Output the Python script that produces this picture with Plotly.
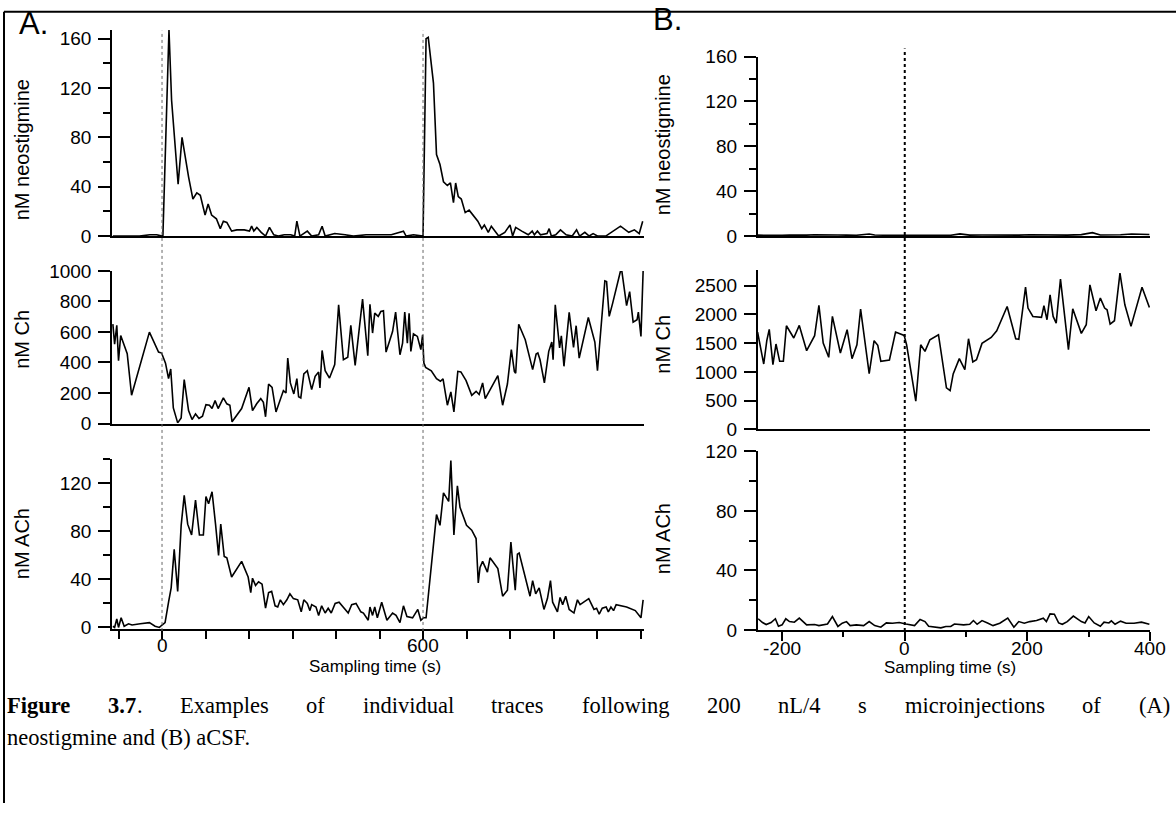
import plotly.graph_objects as go

W, H = 1176, 814

# ---------------- Data ----------------
# Panel A: neostigmine microinjections (time in s)
a_neo_t = [-113, -52, -28, -12, 0, 2, 16, 22, 37, 46, 61, 71, 80, 88, 99, 106, 114, 125, 134, 141,
           149, 160, 172, 189, 201, 206, 211, 218, 228, 238, 247, 257, 267, 281, 296, 305, 310, 317,
           334, 344, 360, 368, 375, 397, 421, 440, 469, 498, 527, 555, 561, 578, 593, 600, 607, 612,
           624, 631, 639, 647, 656, 663, 670, 675, 681, 688, 697, 706, 726, 735, 741, 750, 757, 774,
           788, 800, 806, 813, 827, 842, 851, 856, 863, 870, 885, 890, 895, 905, 916, 929, 943, 953,
           960, 972, 982, 991, 1001, 1020, 1054, 1073, 1086, 1097, 1105]
a_neo_v = [0, 0, 1, 1, 0, 0, 167, 110, 42, 80, 48, 30, 35, 33, 17, 26, 17, 14, 6, 12,
           11, 4, 5, 5, 4, 8, 4, 7, 3, 0, 7, 1, 0, 1, 1, 0, 12, 0,
           4, 0, 1, 8, 0, 2, 1, 0, 1, 1, 1, 4, 0, 1, 0, 0, 160, 161,
           124, 66, 58, 44, 41, 43, 27, 43, 32, 30, 19, 21, 12, 6, 9, 3, 8, 0,
           3, 9, 0, 7, 4, 1, 4, 1, 4, 1, 2, 6, 0, 1, 5, 1, 0, 5,
           0, 3, 0, 2, 0, 0, 8, 3, 5, 2, 12]

a_ch_t = [-113, -109, -104, -100, -95, -89, -80, -70, -29, -8, -1, 8, 15, 20, 26, 36, 44, 51, 61, 69,
          77, 85, 93, 101, 109, 115, 122, 129, 141, 149, 156, 161, 183, 200, 208, 218, 227, 233, 238,
          245, 253, 262, 271, 279, 285, 289, 295, 303, 310, 314, 319, 326, 334, 344, 352, 360, 363,
          368, 375, 385, 397, 406, 417, 427, 434, 444, 461, 473,
          478, 484, 489, 497, 503, 509, 515, 522, 530, 537, 547, 553, 558, 564, 568, 572, 578, 587,
          595, 599, 602, 606, 619, 631, 640, 646, 656, 664, 671, 680, 687, 699, 712, 722, 729, 737,
          743, 772, 783, 794, 803, 810, 813, 820, 835, 852, 860, 864, 869, 879, 889, 896, 899, 904,
          914, 918, 924, 936, 946, 952, 959, 980, 991, 995, 1001, 1018, 1022, 1028, 1036, 1054, 1057,
          1068, 1075, 1083, 1092, 1095, 1101, 1106]
a_ch_v = [651, 520, 643, 412, 577, 527, 457, 185, 599, 468, 462, 396, 294, 357, 102, 4, 37, 288, 85, 26,
          63, 33, 48, 124, 120, 98, 150, 98, 168, 129, 120, 11, 98, 237, 85, 131, 163, 139, 44,
          259, 237, 76, 157, 216, 200, 429, 266, 194, 294, 176, 168, 325, 346, 222, 309, 338, 233,
          479, 346, 298, 386, 778, 418, 434, 643, 381, 815, 444,
          782, 593, 723, 702, 734, 739, 468, 534, 603, 730, 451, 527, 730, 527, 723, 473, 588, 571,
          484, 582, 396, 368, 346, 294, 277, 292, 120, 207, 76, 342, 338, 281, 185, 211, 190, 266,
          163, 314, 120, 259, 484, 342, 329, 651, 549, 353, 455, 462, 418, 266, 473, 534, 418, 778,
          495, 575, 375, 728, 499, 641, 429, 695, 586, 534, 346, 935, 930, 702, 789, 1000, 1000,
          773, 865, 664, 680, 730, 571, 1000]

a_ach_t = [-113, -109, -104, -100, -94, -87, -77, -69, -50, -29, -16, -6, 0, 7, 15, 21, 28, 36, 44, 51,
           59, 68, 77, 86, 95, 101, 107, 115, 123, 130, 135, 143, 149, 160, 183, 198, 204, 208, 215,
           222, 230, 238, 245, 252, 260, 266, 272, 279, 287, 294, 302, 312, 320, 326, 334, 340, 344,
           354, 360, 367, 375, 382, 389, 398, 407, 417, 428, 436, 446, 457, 463, 474,
           478, 484, 489, 495, 505, 517, 530, 538, 547, 555, 563, 576, 588, 595, 601, 607, 615, 631,
           639, 647, 659, 664, 671, 679, 685, 700, 712, 722, 727, 731, 737, 748, 754, 772, 783, 794,
           802, 812, 817, 821, 846, 852, 859, 867, 878, 886, 893, 898, 909, 915, 921, 928, 936, 947,
           955, 961, 981, 993, 999, 1005, 1012, 1021, 1026, 1032, 1038, 1044, 1068, 1088, 1101, 1106]
a_ach_v = [1, 0, 7, 0, 8, 1, 3, 2, 3, 4, 1, 0, 2, 4, 21, 33, 65, 30, 85, 110,
           86, 77, 106, 77, 77, 109, 103, 113, 86, 60, 86, 59, 58, 42, 55, 42, 29, 41, 35,
           38, 36, 16, 29, 30, 18, 17, 23, 19, 23, 28, 24, 23, 13, 23, 20, 14, 19,
           17, 10, 18, 12, 16, 12, 20, 21, 17, 12, 19, 20, 13, 12, 6,
           17, 10, 17, 8, 21, 6, 12, 10, 4, 18, 9, 8, 15, 6, 8, 8, 38, 94,
           85, 112, 105, 139, 77, 118, 100, 85, 81, 74, 37, 50, 55, 46, 58, 49, 26, 31,
           71, 31, 61, 62, 26, 39, 28, 33, 15, 24, 39, 21, 13, 25, 19, 26, 15, 12,
           23, 19, 24, 15, 16, 11, 16, 17, 13, 17, 14, 19, 17, 14, 8, 23]

# Panel B: aCSF microinjection
b_neo_t = [-240, -226, -211, -200, -188, -172, -160, -147, -126, -109, -95, -79, -58, -49, -30, -9, 7,
           25, 39, 59, 75, 90, 106, 126, 144, 168, 186, 204, 226, 244, 265, 288, 306, 319, 337, 352,
           370, 386, 399]
b_neo_v = [0.8, 0.6, 0.9, 0.7, 1.0, 0.7, 0.8, 1.1, 0.7, 0.9, 0.8, 0.7, 1.8, 0.9, 0.7, 0.8, 0.6,
           0.8, 0.7, 0.9, 0.7, 1.9, 0.8, 0.9, 0.7, 1.0, 0.8, 1.2, 0.9, 1.1, 0.8, 1.3, 3.0, 1.0, 0.9, 1.2,
           1.8, 1.6, 1.4]

b_ch_t = [-240, -230, -225, -221, -215, -210, -204, -198, -193, -186, -181, -172, -160, -147, -140, -133,
          -124, -118, -105, -94, -86, -78, -72, -58, -50, -44, -39, -25, -15, -1, 3, 18, 26, 33, 41, 55,
          68, 74, 79, 89, 98, 104, 111, 117, 126, 141, 150, 167, 181, 186, 197, 201, 209, 223, 227, 232,
          237, 242, 247, 254, 267, 274, 288, 296, 302, 312, 319, 326, 330, 335, 342, 351, 359, 369, 387, 399]
b_ch_v = [1692, 1137, 1542, 1738, 1126, 1484, 1184, 1184, 1801, 1674, 1588, 1807, 1368, 1628, 2154, 1501,
          1253, 1963, 1328, 1732, 1230, 1472, 2090, 970, 1542, 1461, 1184, 1207, 1692, 1634, 1472, 491,
          1472, 1357, 1559, 1646, 722, 676, 964, 1230, 1039, 1576, 1172, 1213, 1495, 1599, 1715, 2136, 1576,
          1565, 2471, 2108, 1963, 1946, 2148, 1905, 2338, 1963, 1848, 2610, 1386, 2096, 1669, 1819, 2512,
          2061, 2281, 2108, 2079, 1830, 1888, 2714, 2165, 1790, 2471, 2119]

b_ach_t = [-239, -232, -226, -218, -211, -206, -200, -194, -188, -180, -172, -160, -147, -140, -126, -118,
           -109, -102, -95, -89, -79, -67, -58, -49, -39, -30, -20, -9, 2, 7, 16, 25, 33, 39, 50, 59, 67,
           75, 81, 87, 96, 106, 112, 118, 126, 135, 144, 155, 168, 178, 186, 195, 204, 215, 226, 231,
           237, 244, 251, 257, 265, 275, 288, 294, 300, 309, 319, 325, 333, 337, 343, 352, 361, 374, 386, 399]
b_ach_v = [7.5, 5, 3.6, 5, 7.5, 2.5, 3.4, 7.5, 5.6, 5.2, 7.9, 3.4, 3.6, 2.9, 4, 9,
           2.3, 4.5, 5.6, 2.9, 3.4, 2.9, 5.6, 2.9, 1.8, 4.7, 4.5, 5, 4, 3.6, 2.9, 7, 5.6, 2.5, 1.8, 1.4, 2.3,
           2.3, 4, 3.6, 3.4, 3.8, 6.3, 3.8, 6.3, 4.7, 2.9, 4.5, 7.9, 1.8, 5.6, 4.5, 5.6, 6.3, 7.9, 5.6,
           10.8, 10.6, 4.7, 3.8, 5.6, 9.3, 5.6, 4.7, 9, 4.7, 2.5, 5.2, 4.7, 6.1, 3.8, 5.9, 4.5, 4.5, 5.2, 3.8]

y_titles = ["nM neostigmine", "nM Ch", "nM ACh"]
x_title = "Sampling time (s)"
a_xlabels = [0, 600]
b_xlabels = [-200, 0, 200, 400]
caption_line1 = ["Figure", "3.7", ".", "Examples", "of", "individual", "traces", "following", "200",
                 "nL/4", "s", "microinjections", "of", "(A)"]
caption_line2 = "neostigmine and (B) aCSF."

# ---------------- Layout helpers (target picture pixel -> paper fraction) ----------------
# Vertically the photographed page comes out slightly reduced (y' = 0.977 y + 9.3): invert it.
def wy(y):
    return (y - 9.3) / 0.977

def px_x(x):
    return min(max(x / W, 0.0), 1.0)

def px_y(y):
    return min(max(1 - wy(y) / H, 0.0), 1.0)

FONT = "Liberation Sans, Arial, sans-serif"
SERIF = "Liberation Serif, Times New Roman, serif"
TICKFONT = dict(family=FONT, size=19, color="black")
LW = 1.5

fig = go.Figure()

traces = [
    (a_neo_t, a_neo_v, "x", "y"),
    (a_ch_t, a_ch_v, "x2", "y2"),
    (a_ach_t, a_ach_v, "x3", "y3"),
    (b_neo_t, b_neo_v, "x4", "y4"),
    (b_ch_t, b_ch_v, "x5", "y5"),
    (b_ach_t, b_ach_v, "x6", "y6"),
]
for t, v, xa, ya in traces:
    fig.add_trace(go.Scatter(x=t, y=v, xaxis=xa, yaxis=ya, mode="lines",
                             line=dict(color="black", width=1.6), showlegend=False,
                             hoverinfo="skip"))

A_dom = [px_x(112), px_x(644)]
B_dom = [px_x(757.6), px_x(1150)]
A_range = [-115, 1108]
B_range = [-240, 400]

def dom_y(y_bottom, y_top):
    return [px_y(y_bottom), px_y(y_top)]

def xax(dom, rng, anchor, tickvals=None, minorvals=None, ticklen=8, minorlen=5):
    d = dict(domain=dom, range=rng, anchor=anchor, showline=True, linecolor="black",
             linewidth=LW, showgrid=False, zeroline=False, fixedrange=True,
             showticklabels=False)
    if tickvals:
        d.update(ticks="outside", ticklen=ticklen, tickwidth=LW, tickcolor="black",
                 tickvals=tickvals)
        if minorvals:
            d["minor"] = dict(tickvals=minorvals, ticks="outside", ticklen=minorlen,
                              tickwidth=LW, tickcolor="black", showgrid=False)
    else:
        d.update(ticks="")
    return d

def yax(dom, rng, anchor, tickvals, minorvals=None):
    d = dict(domain=dom, range=rng, anchor=anchor, showline=True, linecolor="black",
             linewidth=LW, showgrid=False, zeroline=False, ticks="outside", ticklen=12,
             tickwidth=LW, tickcolor="black", tickvals=tickvals,
             ticktext=[str(v) for v in tickvals], tickfont=TICKFONT, fixedrange=True,
             ticklabelstandoff=3)
    if minorvals:
        d["minor"] = dict(tickvals=minorvals, ticks="outside", ticklen=7, tickwidth=LW,
                          tickcolor="black", showgrid=False)
    return d

a_xticks = [-100, 0, 100, 200, 300, 400, 500, 600, 700, 800, 900, 1000, 1100]

# A top: 0 at y=236, 160 at y=38 ; A Ch: 0 at 424, 1000 at 271 ; A ACh: 0 at 628.5, 120 at 484
a1_lo, a1_hi = 236, 236 - 167 * (236 - 38) / 160
a3_px = (628.5 - 484) / 120
a3_lo, a3_hi = 630.5, 628.5 - 140 * a3_px
layout = dict(
    width=W, height=H, margin=dict(l=0, r=0, t=0, b=0),
    paper_bgcolor="white", plot_bgcolor="rgba(0,0,0,0)", showlegend=False,
    xaxis=xax(A_dom, A_range, "y"),
    xaxis2=xax(A_dom, A_range, "y2"),
    xaxis3=xax(A_dom, A_range, "y3", tickvals=a_xticks, ticklen=8),
    xaxis4=xax(B_dom, B_range, "y4"),
    xaxis5=xax(B_dom, B_range, "y5"),
    xaxis6=xax(B_dom, B_range, "y6", tickvals=b_xlabels, minorvals=[-100, 100, 300],
               ticklen=9, minorlen=5),
    yaxis=yax(dom_y(a1_lo, a1_hi), [0, 167], "x", [0, 40, 80, 120, 160], [20, 60, 100, 140]),
    yaxis2=yax(dom_y(424, 271), [0, 1000], "x2", [0, 200, 400, 600, 800, 1000]),
    yaxis3=yax(dom_y(a3_lo, a3_hi), [-(a3_lo - 628.5) / a3_px, 140], "x3", [0, 40, 80, 120],
               [20, 60, 100, 140]),
    yaxis4=yax(dom_y(236, 56), [0, 160], "x4", [0, 40, 80, 120, 160], [20, 60, 100, 140]),
    yaxis5=yax(dom_y(430, 270), [0, 2770], "x5", [0, 500, 1000, 1500, 2000, 2500]),
    yaxis6=yax(dom_y(631, 452), [0, 120], "x6", [0, 40, 80, 120], [20, 60, 100]),
)
fig.update_layout(**layout)

shapes = []
# injection markers
for t0 in (0, 600):
    shapes.append(dict(type="line", xref="x3", yref="paper", x0=t0, x1=t0,
                       y0=px_y(632), y1=px_y(30), line=dict(color="#666666", width=1, dash="dot")))
shapes.append(dict(type="line", xref="x6", yref="paper", x0=0, x1=0,
                   y0=px_y(632), y1=px_y(48), line=dict(color="black", width=2, dash="dot")))
# frame (top and left edges)
shapes.append(dict(type="line", xref="paper", yref="paper", x0=px_x(4), x1=1.0,
                   y0=px_y(11), y1=px_y(11), line=dict(color="black", width=2)))
shapes.append(dict(type="line", xref="paper", yref="paper", x0=px_x(4), x1=px_x(4),
                   y0=0, y1=px_y(11), line=dict(color="black", width=2)))
fig.update_layout(shapes=shapes)

ann = []
def text(x, y, s, size=18, angle=0, family=FONT, xanchor="center", yanchor="middle", xref="paper"):
    ann.append(dict(x=px_x(x) if xref == "paper" else x, y=px_y(y), xref=xref, yref="paper",
                    text=s, showarrow=False, textangle=angle, xanchor=xanchor, yanchor=yanchor,
                    font=dict(family=family, size=size, color="black")))

# x tick labels placed at the axis values
for v in a_xlabels:
    text(v, 647, str(v), size=19, xref="x3")
for v in b_xlabels:
    text(v, 650, str(v), size=19, xref="x6")

for xc, centers in ((22, (150, 340, 545)), (663, (145, 345, 540))):
    for s, yc in zip(y_titles, centers):
        text(xc, yc, s, size=20, angle=-90)
text(375, 668, x_title, size=17)
text(950, 669, x_title, size=17)
text(33, 23, "A.", size=31)
text(667, 19, "B.", size=31)

# ---- caption (first line justified) ----
TIMES = {" ": 250, "(": 333, ")": 333, ".": 250, "/": 278, "A": 722, "B": 667, "C": 667, "E": 611,
         "F": 556, "L": 611, "S": 556, "a": 444, "b": 500, "c": 444, "d": 500, "e": 444, "f": 333,
         "g": 500, "h": 500, "i": 278, "j": 278, "l": 278, "m": 778, "n": 500, "o": 500, "p": 500,
         "r": 333, "s": 389, "t": 278, "u": 500, "v": 500, "w": 722, "x": 500, "y": 500}
TIMES_B = {"F": 611, "i": 278, "g": 500, "u": 556, "r": 444, "e": 444, "3": 500, ".": 250, "7": 500}
for dgt in "0123456789":
    TIMES.setdefault(dgt, 500)

CAP = 22.5
def wid(s, bold=False):
    tbl = TIMES_B if bold else TIMES
    return sum(tbl.get(c, TIMES.get(c, 500)) for c in s) / 1000.0 * CAP

tokens = []
for i, w in enumerate(caption_line1):
    bold = w in ("Figure", "3.7")
    gap = not (w == "." or i == 0)
    tokens.append((w, bold, gap))
natural = sum(wid(w, b) for w, b, _ in tokens)
ngaps = sum(1 for _, _, g in tokens if g)
x0_line, x1_line = 5.0, 1168.0
gap_px = (x1_line - x0_line - natural) / ngaps
xpos = x0_line
for w, b, g in tokens:
    if g:
        xpos += gap_px
    s = "<b>%s</b>" % w if b else w
    text(xpos, 707, s, size=CAP, family=SERIF, xanchor="left")
    xpos += wid(w, b)
text(5, 739, caption_line2, size=CAP, family=SERIF, xanchor="left")
fig.update_layout(annotations=ann)

fig.write_html("out.html", config={"displayModeBar": False},
               post_script="document.body.style.margin='0';")
